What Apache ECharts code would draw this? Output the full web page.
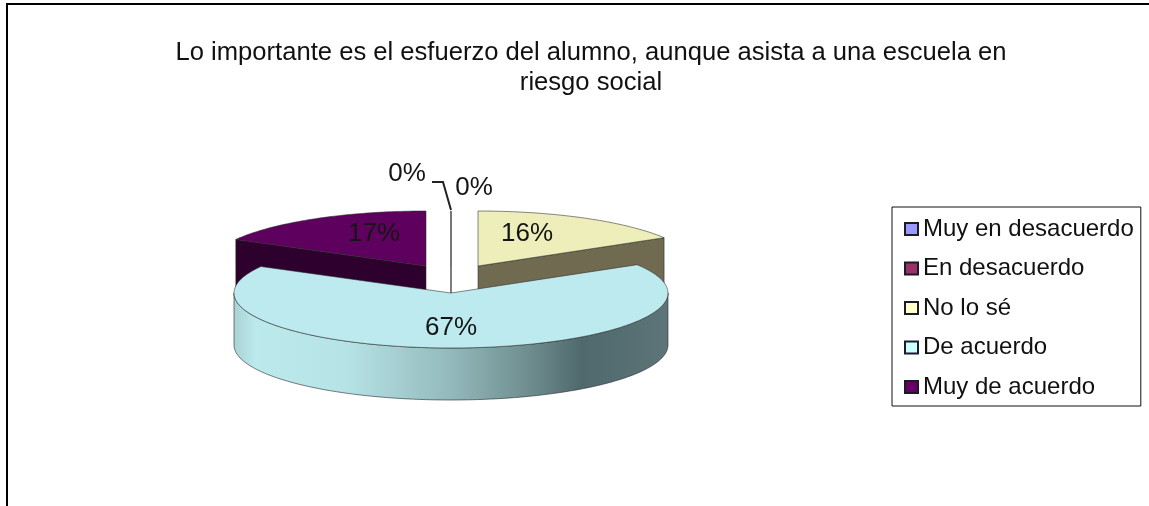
<!DOCTYPE html>
<html lang="es">
<head>
  <meta charset="UTF-8">
  <title>Esfuerzo del alumno</title>
  <script src="https://cdn.jsdelivr.net/npm/echarts@6/dist/echarts.min.js"></script>
  <style>
    html,body{margin:0;padding:0;background:#fff}
    #main{width:1149px;height:506px}
  </style>
</head>
<body>
<div id="main"></div>
<script>
  var chartTitle = 'Lo importante es el esfuerzo del alumno, aunque asista a una escuela en\nriesgo social';
  var categories = ['Muy en desacuerdo','En desacuerdo','No lo sé','De acuerdo','Muy de acuerdo'];
  var percents = [0,0,16.4,66.6,17];

  // colores: leyenda, cara superior, pared
  var legendColors = ['#9999ff','#993366','#ffffcc','#ccffff','#660066'];
  var topColors = ['#ffffff','#ffffff','#eeeebb','#bceaee','#5e005e'];
  var wallColors = ['#ffffff','#ffffff','#6f6a50','#bceaee','#2e002e'];

  // el pastel en perspectiva: elipse, grosor y separacion de cada porcion
  var cx = 451, cy = 266, rx = 217, ry = 55, depth = 52;
  var shiftX = [0,0,27,0,-25];
  var shiftY = [0,0,0,27,0];
  var labelX = [407,474,527,451,374];
  var labelY = [174,188,234,328,234];

  var total = percents.reduce(function(a,b){return a+b},0);

  function startAngle(idx){
    var s = 0;
    for(var i=0;i<idx;i++){s += percents[i]}
    return s/total*Math.PI*2;
  }

  function arc(a0,a1,x0,y0,dy){
    var pts = [];
    var n = Math.max(1,Math.ceil((a1-a0)/0.02));
    for(var i=0;i<=n;i++){
      var a = a0+(a1-a0)*i/n;
      pts.push([x0+Math.sin(a)*rx,y0-Math.cos(a)*ry+dy]);
    }
    return pts;
  }

  function renderSlice(idx){
    return function(params,api){
      var v = api.value(0);
      var a0 = startAngle(idx);
      var a1 = a0+v/total*Math.PI*2;
      var x0 = cx+shiftX[idx], y0 = cy+shiftY[idx];
      var rim = arc(a0,a1,x0,y0,0);
      var kids = [];
      var edge = v===0?'#777':'rgba(40,40,40,0.55)';

      if(idx===3){
        // pared frontal con el degradado, solo de derecha a izquierda
        var from = Math.max(a0,Math.PI/2), to = Math.min(a1,Math.PI*1.5);
        var up = arc(from,to,x0,y0,0);
        var down = arc(from,to,x0,y0,depth).reverse();
        kids.push({type:'polygon',shape:{points:up.concat(down)},style:{
          stroke:'rgba(40,40,40,0.6)',lineWidth:1,
          fill:new echarts.graphic.LinearGradient(0,0,1,0,[
            {offset:0,color:'#a9d2d4'},
            {offset:0.05,color:'#bce9ec'},
            {offset:0.26,color:'#b6e3e6'},
            {offset:0.5,color:'#93b9bc'},
            {offset:0.68,color:'#6f8d8e'},
            {offset:0.8,color:'#4f696d'},
            {offset:1,color:'#5d7478'}
          ])
        }});
      }else{
        // cara del corte que se ve por delante
        var outer = idx===4?rim[0]:rim[rim.length-1];
        kids.push({type:'polygon',shape:{points:[
          [x0,y0],outer,[outer[0],outer[1]+depth],[x0,y0+depth]
        ]},style:{fill:wallColors[idx],stroke:edge,lineWidth:1}});
      }
      kids.push({type:'polygon',shape:{points:[[x0,y0]].concat(rim)},style:{
        fill:topColors[idx],stroke:edge,lineWidth:1
      }});
      kids.push({type:'text',style:{
        x:labelX[idx],y:labelY[idx],text:Math.round(v)+'%',align:'center',verticalAlign:'middle',
        fontFamily:'"Liberation Sans",Arial,sans-serif',fontSize:26,fill:'#151515'
      },z2:20});
      return {type:'group',children:kids};
    };
  }

  var chart = echarts.init(document.getElementById('main'));

  var seriesList = categories.map(function(name,i){
    return {
      name:name,
      type:'custom',
      coordinateSystem:'none',
      z:i===3?4:2,
      silent:true,
      animation:false,
      itemStyle:{color:legendColors[i]},
      renderItem:renderSlice(i),
      data:[[percents[i]]]
    };
  });

  chart.setOption({
    backgroundColor:'#fff',
    animation:false,
    title:{
      text:chartTitle,left:586,top:33,textAlign:'center',
      textStyle:{fontFamily:'"Liberation Sans",Arial,sans-serif',fontWeight:'normal',fontSize:25.6,lineHeight:30,color:'#111'}
    },
    legend:{
      orient:'vertical',left:892,top:207,
      selectedMode:false,
      icon:'rect',itemWidth:13,itemHeight:12,itemGap:15.5,
      padding:[10,7,7,12],
      borderColor:'#111',borderWidth:1,
      textStyle:{fontFamily:'"Liberation Sans",Arial,sans-serif',fontSize:24,lineHeight:24,color:'#111',padding:[0,0,0,0]},
      data:categories.map(function(name,i){
        return {name:name,itemStyle:{color:legendColors[i],borderColor:'#1a1a2a',borderWidth:2}};
      })
    },
    graphic:[
      {type:'line',shape:{x1:6,y1:4,x2:1149,y2:4},style:{stroke:'#000',lineWidth:2}},
      {type:'line',shape:{x1:7,y1:3,x2:7,y2:506},style:{stroke:'#000',lineWidth:2}},
      // linea guia de la etiqueta 0%
      {type:'polyline',shape:{points:[[432,182],[443,182],[451,210]]},style:{stroke:'#222',lineWidth:2,fill:'none'},z:5}
    ],
    series:seriesList
  });
</script>
</body>
</html>
